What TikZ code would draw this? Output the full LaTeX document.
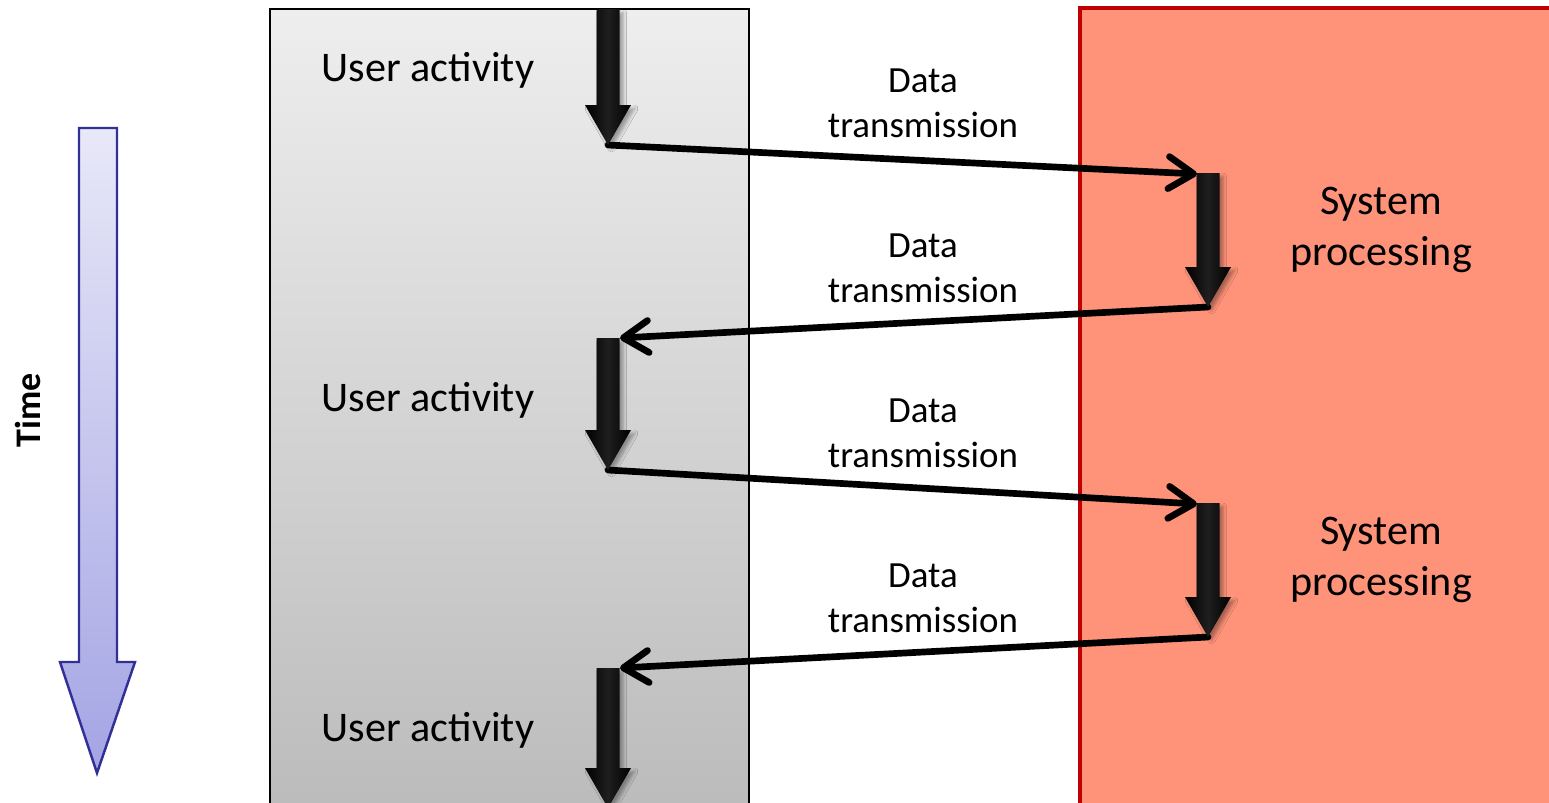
\documentclass[tikz,border=0pt]{standalone}
\usepackage{fontspec}
\setmainfont{Carlito}
\usetikzlibrary{arrows.meta,shadows.blur}

\definecolor{panelred}{RGB}{255,147,122}
\definecolor{panelredline}{RGB}{192,0,0}
\definecolor{panelgraytop}{RGB}{238,238,238}
\definecolor{panelgraybot}{RGB}{186,186,186}
\definecolor{timeline}{RGB}{48,48,150}
\definecolor{timetop}{RGB}{232,232,248}
\definecolor{timebot}{RGB}{164,164,228}

\tikzset{
  flow/.style={line width=3.8pt, line cap=round, line join=round,
    -{Straight Barb[length=0.5cm,width=0.64cm,line cap=round,line join=round]}},
  blockarrow/.style={left color=black, right color=black, middle color=black!88,
    blur shadow={shadow xshift=2pt, shadow yshift=-2pt, shadow blur radius=2pt, shadow opacity=35}},
  biglabel/.style={font=\fontsize{24}{29}\selectfont, align=center, inner sep=0pt},
  dtlabel/.style={font=\fontsize{21}{25.5}\selectfont, align=center, inner sep=0pt},
  timelabel/.style={font=\bfseries\fontsize{20.5}{24}\selectfont, rotate=90, inner sep=0pt},
}

% downward block arrow: centre x, top y, tip y (pixel units, y grows downward)
\newcommand\downblock[3]{%
  \path[blockarrow] (#1-11.5,#2) -- (#1+11.5,#2) -- (#1+11.5,#3-40) -- (#1+23,#3-40)
    -- (#1,#3) -- (#1-23,#3-40) -- (#1-11.5,#3-40) -- cycle;}

\begin{document}
\begin{tikzpicture}[x=0.02cm, y=-0.02cm]
  \useasboundingbox (0,0) rectangle (1549,802);
  \clip (0,0) rectangle (1549,802);

  % lanes
  \path[draw=black, line width=1.1pt, top color=panelgraytop, bottom color=panelgraybot]
    (270,9) rectangle (749,830);
  \path[fill=panelred, draw=panelredline, line width=2pt]
    (1080,8) rectangle (1590,840);

  % time axis
  \path[draw=timeline, line width=1.4pt, line join=miter, top color=timetop, bottom color=timebot]
    (79,128) -- (117,128) -- (117,662) -- (135,662) -- (97,773) -- (60,662) -- (79,662) -- cycle;
  \node[timelabel] (time) at (28,410) {Time};

  % block arrow end points
  \coordinate (ua1top) at (608,9);    \coordinate (ua1tip) at (608,145);
  \coordinate (sp1in)  at (1197,174); \coordinate (sp1tip) at (1208,307);
  \coordinate (ua2in)  at (620,338);  \coordinate (ua2tip) at (608,470);
  \coordinate (sp2in)  at (1197,504); \coordinate (sp2tip) at (1208,637);
  \coordinate (ua3in)  at (620,668);

  % transmissions
  \draw[flow] (ua1tip) -- (sp1in);
  \draw[flow] (sp1tip) -- (ua2in);
  \draw[flow] (ua2tip) -- (sp2in);
  \draw[flow] (sp2tip) -- (ua3in);

  % activity and processing phases
  \downblock{608}{9}{145}
  \downblock{1208}{173}{307}
  \downblock{608}{338}{470}
  \downblock{1208}{503}{637}
  \downblock{608}{668}{808}

  % labels
  \node[biglabel] (user1) at (428,70)  {User activity};
  \node[biglabel] (user2) at (428,400) {User activity};
  \node[biglabel] (user3) at (428,730) {User activity};
  \node[biglabel] (sys1) at (1381,230) {System\\processing};
  \node[biglabel] (sys2) at (1381,560) {System\\processing};
  \node[dtlabel] (dt1) at (923,103) {Data\\transmission};
  \node[dtlabel] (dt2) at (923,268) {Data\\transmission};
  \node[dtlabel] (dt3) at (923,433) {Data\\transmission};
  \node[dtlabel] (dt4) at (923,598) {Data\\transmission};
\end{tikzpicture}
\end{document}
